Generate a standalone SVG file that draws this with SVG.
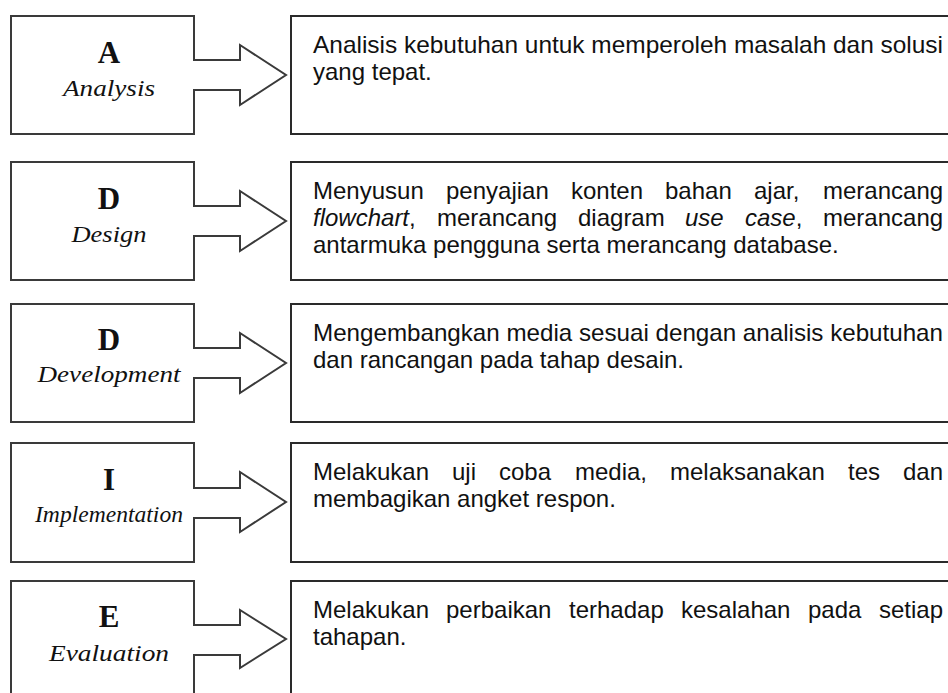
<svg xmlns="http://www.w3.org/2000/svg" width="948" height="693" viewBox="0 0 948 693">
<style>
.shape{fill:#fff;stroke:#3a3a3a;stroke-width:2;stroke-linejoin:miter}
.desc{fill:#fff;stroke:#2a2a2a;stroke-width:2}
.letter{font-family:"Liberation Serif","Times New Roman",serif;font-weight:bold;font-size:31px;fill:#111;text-anchor:middle}
.label{font-family:"Liberation Serif","Times New Roman",serif;font-style:italic;font-size:24px;fill:#111;text-anchor:middle}
.txt{font-family:"Liberation Sans",Arial,sans-serif;font-size:24px;fill:#111}
.it{font-style:italic}
</style>
<rect width="948" height="693" fill="#fff"/>

<g id="connectors"></g>

<g id="node-analysis">
<path class="shape" d="M11,16 H194 V60 H240 V45 L286,75 L240,105 V90 H194 V134 H11 Z"/>
<text class="letter" x="109" y="63">A</text>
<text class="label" x="109" y="96" textLength="92" lengthAdjust="spacingAndGlyphs">Analysis</text>
</g>
<g id="desc-analysis">
<rect class="desc" x="291" y="16" width="680" height="118"/>
<text class="txt" x="313" y="53" textLength="630" lengthAdjust="spacingAndGlyphs">Analisis kebutuhan untuk memperoleh masalah dan solusi</text>
<text class="txt" x="313" y="80">yang tepat.</text>
</g>

<g id="node-design">
<path class="shape" d="M11,162 H194 V206 H240 V191 L286,221 L240,251 V236 H194 V280 H11 Z"/>
<text class="letter" x="109" y="209">D</text>
<text class="label" x="109" y="242" textLength="75" lengthAdjust="spacingAndGlyphs">Design</text>
</g>
<g id="desc-design">
<rect class="desc" x="291" y="162" width="680" height="118"/>
<text class="txt" y="199"><tspan x="313">Menyusun</tspan><tspan x="446">penyajian</tspan><tspan x="571">konten</tspan><tspan x="665">bahan</tspan><tspan x="754">ajar,</tspan><tspan x="823">merancang</tspan></text>
<text class="txt" y="226"><tspan x="313" class="it">flowchart</tspan><tspan>,</tspan><tspan x="437">merancang</tspan><tspan x="578">diagram</tspan><tspan x="685" class="it">use</tspan><tspan x="745" class="it">case</tspan><tspan>,</tspan><tspan x="823">merancang</tspan></text>
<text class="txt" x="313" y="253">antarmuka pengguna serta merancang database.</text>
</g>

<g id="node-development">
<path class="shape" d="M11,304 H194 V348 H240 V333 L286,363 L240,393 V378 H194 V422 H11 Z"/>
<text class="letter" x="109" y="350">D</text>
<text class="label" x="109" y="382" textLength="143" lengthAdjust="spacingAndGlyphs">Development</text>
</g>
<g id="desc-development">
<rect class="desc" x="291" y="304" width="680" height="118"/>
<text class="txt" x="313" y="341" textLength="630" lengthAdjust="spacingAndGlyphs">Mengembangkan media sesuai dengan analisis kebutuhan</text>
<text class="txt" x="313" y="368">dan rancangan pada tahap desain.</text>
</g>

<g id="node-implementation">
<path class="shape" d="M11,443 H194 V488 H240 V472 L286,502 L240,532 V518 H194 V562 H11 Z"/>
<text class="letter" x="109" y="490">I</text>
<text class="label" x="109" y="522" textLength="148" lengthAdjust="spacingAndGlyphs">Implementation</text>
</g>
<g id="desc-implementation">
<rect class="desc" x="291" y="443" width="680" height="119"/>
<text class="txt" y="480"><tspan x="313">Melakukan</tspan><tspan x="452">uji</tspan><tspan x="499">coba</tspan><tspan x="575">media,</tspan><tspan x="670">melaksanakan</tspan><tspan x="848">tes</tspan><tspan x="903">dan</tspan></text>
<text class="txt" x="313" y="507">membagikan angket respon.</text>
</g>

<g id="node-evaluation">
<path class="shape" d="M11,700 V581 H194 V625 H240 V610 L286,639 L240,668 V655 H194 V700"/>
<text class="letter" x="109" y="627">E</text>
<text class="label" x="109" y="661" textLength="120" lengthAdjust="spacingAndGlyphs">Evaluation</text>
</g>
<g id="desc-evaluation">
<rect class="desc" x="291" y="581" width="680" height="130"/>
<text class="txt" y="618"><tspan x="313">Melakukan</tspan><tspan x="446">perbaikan</tspan><tspan x="569">terhadap</tspan><tspan x="681">kesalahan</tspan><tspan x="808">pada</tspan><tspan x="879">setiap</tspan></text>
<text class="txt" x="313" y="645">tahapan.</text>
</g>
</svg>
